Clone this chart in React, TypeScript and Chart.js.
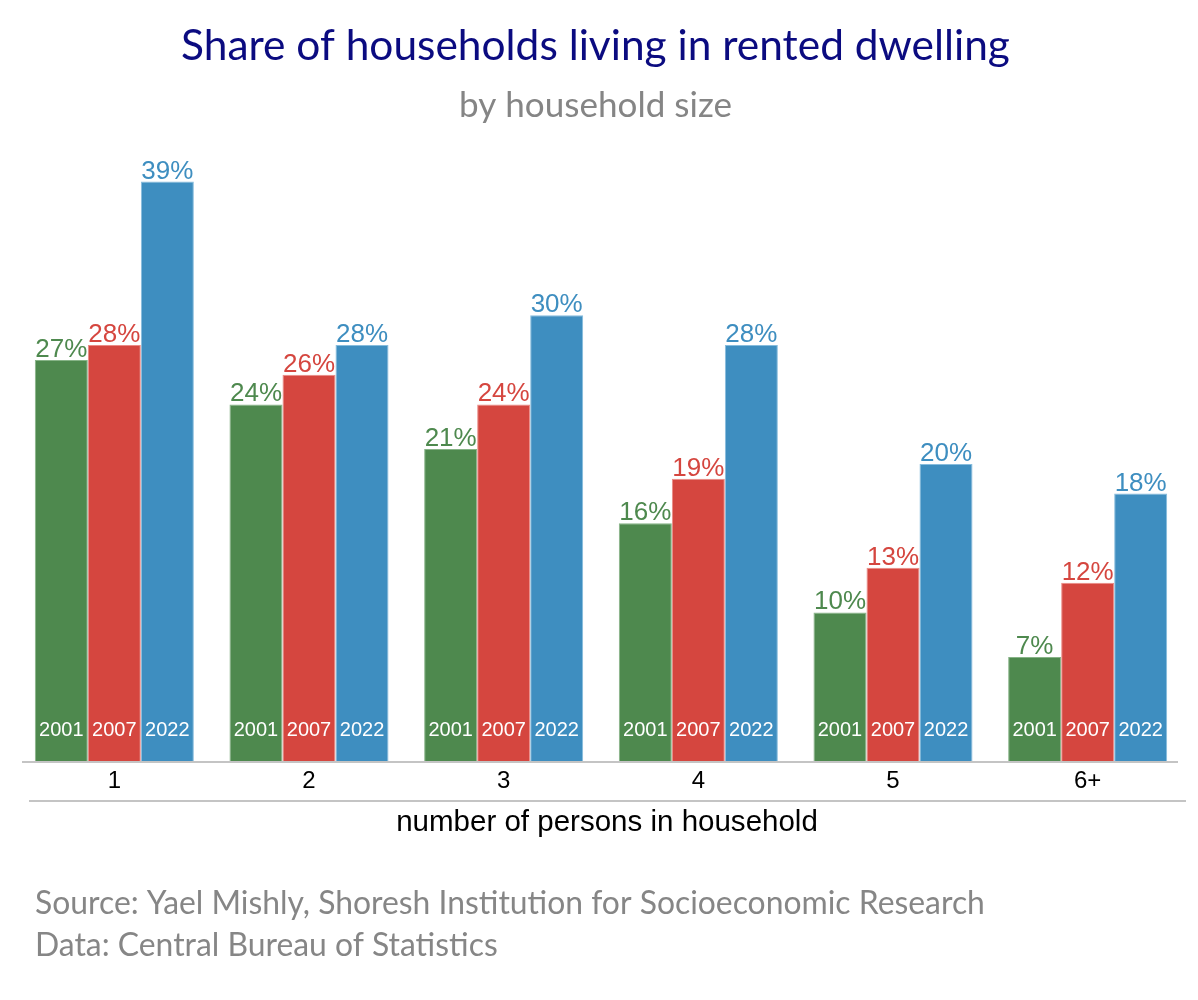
import React, { useEffect, useRef } from "react";
import { Chart, registerables } from "chart.js";

Chart.register(...registerables);

// Household size categories
const categories = ["1", "2", "3", "4", "5", "6+"];
// Survey years
const years = ["2001", "2007", "2022"];
// Share of households living in rented dwelling (%)
const share2001 = [27, 24, 21, 16, 10, 7];
const share2007 = [28, 26, 24, 19, 13, 12];
const share2022 = [39, 28, 30, 28, 20, 18];

const seriesValues = [share2001, share2007, share2022];
const fillColors = ["#4E894E", "#D5463F", "#3E8EC0"];
const edgeColors = ["#86B386", "#EC8A85", "#86BCDD"];

const TITLE = "Share of households living in rented dwelling";
const SUBTITLE = "by household size";
const AXIS_TITLE = "number of persons in household";
const SOURCE_LINES = [
  "Source: Yael Mishly, Shoresh Institution for Socioeconomic Research",
  "Data: Central Bureau of Statistics",
];

const SANS = "'Liberation Sans', Arial, sans-serif";
const HUMANIST = "Lato, 'Open Sans', sans-serif";

// Pick a font size so that the text spans the requested width.
function fitFont(ctx: CanvasRenderingContext2D, text: string, family: string, width: number) {
  ctx.font = `100px ${family}`;
  const w = ctx.measureText(text).width;
  const size = (100 * width) / w;
  return `${size}px ${family}`;
}

const decorations = {
  id: "decorations",
  afterDatasetsDraw(chart: any) {
    const ctx: CanvasRenderingContext2D = chart.ctx;
    ctx.save();

    // value labels above each bar and year labels at the bar foot
    chart.data.datasets.forEach((ds: any, i: number) => {
      const meta = chart.getDatasetMeta(i);
      meta.data.forEach((bar: any, j: number) => {
        ctx.textAlign = "center";
        ctx.textBaseline = "alphabetic";
        ctx.fillStyle = fillColors[i];
        ctx.font = `26px ${SANS}`;
        ctx.fillText(`${ds.data[j]}%`, bar.x, bar.y - 3);

        ctx.fillStyle = "#ffffff";
        ctx.font = `20px ${SANS}`;
        ctx.fillText(ds.label, bar.x, bar.base - 25);
      });
    });
    ctx.restore();
  },
  afterDraw(chart: any) {
    const ctx: CanvasRenderingContext2D = chart.ctx;
    const area = chart.chartArea;
    ctx.save();

    // baseline of the bars
    ctx.strokeStyle = "#C4C4C4";
    ctx.lineWidth = 2;
    ctx.beginPath();
    ctx.moveTo(22, area.bottom + 1);
    ctx.lineTo(1178, area.bottom + 1);
    ctx.stroke();

    // separator between ticks and axis title
    ctx.beginPath();
    ctx.moveTo(29, 801);
    ctx.lineTo(1186, 801);
    ctx.stroke();

    // axis title
    ctx.fillStyle = "#000000";
    ctx.textAlign = "center";
    ctx.textBaseline = "alphabetic";
    ctx.font = fitFont(ctx, AXIS_TITLE, SANS, 422);
    ctx.fillText(AXIS_TITLE, 607, 831);

    // heading
    ctx.fillStyle = "#0B0B80";
    ctx.font = fitFont(ctx, TITLE, HUMANIST, 829);
    ctx.fillText(TITLE, 595.5, 60);

    ctx.fillStyle = "#858585";
    ctx.font = fitFont(ctx, SUBTITLE, HUMANIST, 273);
    ctx.fillText(SUBTITLE, 595.5, 117);

    // source notes
    ctx.textAlign = "left";
    ctx.fillStyle = "#868686";
    const sourceFont = fitFont(ctx, SOURCE_LINES[0], HUMANIST, 950);
    ctx.font = sourceFont;
    ctx.fillText(SOURCE_LINES[0], 35, 914);
    ctx.fillText(SOURCE_LINES[1], 35, 956);

    ctx.restore();
  },
};

export default function App() {
  const canvasRef = useRef<HTMLCanvasElement | null>(null);

  useEffect(() => {
    document.body.style.margin = "0";
    const canvas = canvasRef.current;
    if (!canvas) return;

    const chart = new Chart(canvas, {
      type: "bar",
      data: {
        labels: categories,
        datasets: years.map((year, i) => ({
          label: year,
          data: seriesValues[i],
          backgroundColor: fillColors[i],
          borderColor: edgeColors[i],
          borderWidth: 1,
          categoryPercentage: 0.817,
          barPercentage: 1,
        })),
      },
      options: {
        responsive: false,
        animation: false,
        layout: {
          padding: { left: 17, right: 13, top: 141.5, bottom: 0 },
        },
        plugins: {
          legend: { display: false },
          title: { display: false },
          tooltip: { enabled: false },
        },
        scales: {
          x: {
            grid: { display: false, drawTicks: false },
            border: { display: false },
            ticks: {
              color: "#000000",
              font: { family: SANS, size: 24 },
              padding: 6,
            },
            afterFit: (scale: any) => {
              scale.height = 239;
            },
          },
          y: {
            display: false,
            min: 0,
            max: 41.7,
          },
        },
      },
      plugins: [decorations],
    });

    return () => chart.destroy();
  }, []);

  return (
    <div style={{ width: 1198, height: 1000, background: "#ffffff" }}>
      <canvas ref={canvasRef} width={1198} height={1000} style={{ display: "block" }} />
    </div>
  );
}
